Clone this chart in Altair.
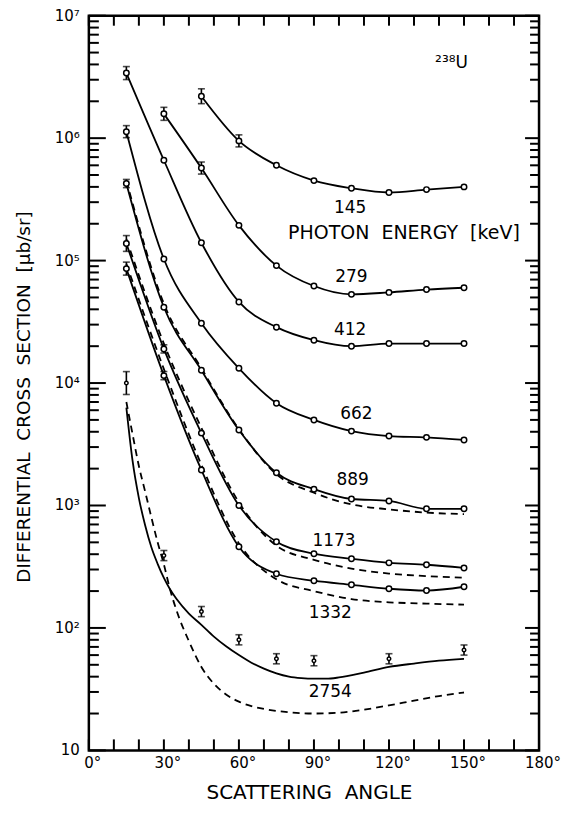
import altair as alt
import pandas as pd

# ---------------- data ----------------
ANG_FULL = [15, 30, 45, 60, 75, 90, 105, 120, 135, 150]

ANG_145 = [45, 60, 75, 90, 105, 120, 135, 150]
VAL_145 = [2.2e6, 9.5e5, 6.0e5, 4.5e5, 3.9e5, 3.6e5, 3.8e5, 4.0e5]

ANG_279 = [30, 45, 60, 75, 90, 105, 120, 135, 150]
VAL_279 = [1.58e6, 5.7e5, 1.94e5, 9.1e4, 6.2e4, 5.3e4, 5.5e4, 5.8e4, 6.0e4]

VAL_412 = [3.4e6, 6.6e5, 1.4e5, 4.6e4, 2.86e4, 2.24e4, 2.0e4, 2.1e4, 2.1e4, 2.1e4]
VAL_662 = [1.13e6, 1.03e5, 3.08e4, 1.32e4, 6.85e3, 5.0e3, 4.05e3, 3.69e3, 3.6e3, 3.43e3]
VAL_889 = [4.26e5, 4.16e4, 1.27e4, 4.13e3, 1.85e3, 1.36e3, 1.13e3, 1.09e3, 9.4e2, 9.4e2]
VAL_1173 = [1.38e5, 1.9e4, 3.9e3, 1.0e3, 505, 404, 367, 340, 328, 309]
VAL_1332 = [8.6e4, 1.15e4, 1.95e3, 460, 277, 243, 225, 209, 202, 217]

DASH_889 = [4.5e5, 4.45e4, 1.32e4, 4.2e3, 1.8e3, 1.27e3, 1.02e3, 930, 875, 850]
DASH_1173 = [1.5e5, 2.1e4, 4.3e3, 1.06e3, 470, 360, 305, 278, 265, 257]
DASH_1332 = [9.4e4, 1.3e4, 2.15e3, 490, 250, 200, 172, 162, 158, 155]

ANG_2754 = [15, 30, 45, 60, 75, 90, 120, 150]
VAL_2754 = [1.0e4, 390, 136, 80, 56, 54, 56, 66]

CURVE_ANG_2754 = [15, 17.5, 20, 22.5, 25, 27.5, 30, 32.5, 35, 40, 45, 50, 55, 60,
                  65, 70, 75, 80, 85, 90, 95, 100, 110, 120, 130, 140, 150]
SOLID_2754 = [6300, 2300, 1150, 690, 456, 334, 256, 206, 173, 131, 106, 85, 70.5, 60,
              52, 46.5, 42.5, 40, 38.9, 38.5, 38.5, 39.4, 43.2, 48, 51.2, 54.1, 56]
DASH_ANG_2754 = [15, 17.5, 20, 22.5, 25, 27.5, 30, 32.5, 35, 40, 45, 50, 55, 60,
                 65, 70, 80, 90, 100, 110, 120, 130, 140, 150]
DASH_2754 = [7000, 3800, 2100, 1300, 800, 500, 330, 205, 140, 78, 48, 35, 28.5, 25,
             23, 21.8, 20.5, 20, 20.3, 21.5, 23.3, 25.5, 27.8, 29.7]

EB_ANG = [45, 60, 30, 45, 15, 15, 15, 15, 15, 30, 30,
          15, 30, 45, 60, 75, 90, 120, 150]
EB_VAL = [2.2e6, 9.5e5, 1.58e6, 5.7e5, 3.4e6, 1.13e6, 4.26e5, 1.38e5, 8.6e4, 1.9e4, 1.15e4,
          1.0e4, 390, 136, 80, 56, 54, 56, 66]
EB_REL = [0.15, 0.12, 0.13, 0.12, 0.13, 0.12, 0.08, 0.16, 0.13, 0.08, 0.08,
          0.24, 0.10, 0.10, 0.10, 0.10, 0.10, 0.10, 0.10]

NB = "\u00a0"
LBL_TEXT = ["145", "PHOTON" + NB + NB + "ENERGY" + NB + NB + "[keV]", "279", "412", "662",
            "889", "1173", "1332", "2754", "²³⁸U"]
LBL_ANG = [104.5, 126, 105, 104.5, 107, 105.5, 98, 96.5, 96.5, 145]
LBL_VAL = [2.7e5, 1.67e5, 7.4e4, 2.7e4, 5.6e3, 1.6e3, 515, 133, 29.7, 4.1e6]
LBL_SIZE = [17, 19, 17, 17, 17, 17, 17, 17, 17, 17]

DECADES = [10, 100, 1e3, 1e4, 1e5, 1e6, 1e7]
Y_TICK_LABELS = ["10", "10²", "10³", "10⁴", "10⁵", "10⁶", "10⁷"]
MINOR = [k * 10 ** d for d in range(1, 7) for k in range(2, 10)]
XTICKS = list(range(0, 181, 10))
X_LABEL_ANGLES = [0, 30, 60, 90, 120, 150, 180]
X_TICK_LABELS = ["0°", "30°", "60°", "90°", "120°", "150°", "180°"]
X_TITLE = "SCATTERING" + NB + NB + "ANGLE"
Y_TITLE = "DIFFERENTIAL" + NB + NB + "CROSS" + NB + NB + "SECTION" + NB + NB + "[µb/sr]"

# ---------------- tables ----------------
rows = []
def add(name, angs, vals):
    for a, v in zip(angs, vals):
        rows.append({"series": name, "angle": a, "value": v})

add("145", ANG_145, VAL_145)
add("279", ANG_279, VAL_279)
add("412", ANG_FULL, VAL_412)
add("662", ANG_FULL, VAL_662)
add("889", ANG_FULL, VAL_889)
add("1173", ANG_FULL, VAL_1173)
add("1332", ANG_FULL, VAL_1332)
pts = pd.DataFrame(rows)
pts["sz"] = 30
pts2754 = pd.DataFrame({"series": "2754", "angle": ANG_2754, "value": VAL_2754, "sz": 12})
points = pd.concat([pts, pts2754], ignore_index=True)

solid_rows = list(rows)
for a, v in zip(CURVE_ANG_2754, SOLID_2754):
    solid_rows.append({"series": "2754", "angle": a, "value": v})
solid = pd.DataFrame(solid_rows)

dash_rows = []
for name, vals in (("889", DASH_889), ("1173", DASH_1173), ("1332", DASH_1332)):
    for a, v in zip(ANG_FULL, vals):
        dash_rows.append({"series": name, "angle": a, "value": v})
for a, v in zip(DASH_ANG_2754, DASH_2754):
    dash_rows.append({"series": "2754", "angle": a, "value": v})
dashed = pd.DataFrame(dash_rows)

eb = pd.DataFrame({"angle": EB_ANG, "value": EB_VAL, "rel": EB_REL})
eb["lo"] = eb["value"] / (1 + eb["rel"])
eb["hi"] = eb["value"] * (1 + eb["rel"])

labels = pd.DataFrame({"text": LBL_TEXT, "angle": LBL_ANG, "value": LBL_VAL, "fs": LBL_SIZE})

# ---------------- scales ----------------
FONT = "DejaVu Sans"
W, H = 451, 736
XS = alt.Scale(domain=[0, 180], nice=False, zero=False)
YS = alt.Scale(type="log", domain=[10, 1e7], nice=False)
DEG_PER_PX = 180.0 / W
DEC_PER_PX = 6.0 / H

def X(field):
    return alt.X(field, scale=XS, axis=None)

def Y(field):
    return alt.Y(field, scale=YS, axis=None)

# ---------------- data layers ----------------
solid_layer = alt.Chart(solid).mark_line(color="black", strokeWidth=1.8, interpolate="monotone").encode(
    x=X("angle:Q"), y=Y("value:Q"), detail="series:N")

dashed_layer = alt.Chart(dashed).mark_line(color="black", strokeWidth=1.8, strokeDash=[7, 5],
                                           interpolate="monotone").encode(
    x=X("angle:Q"), y=Y("value:Q"), detail="series:N")

rule_layer = alt.Chart(eb).mark_rule(color="black", strokeWidth=1.6).encode(
    x=X("angle:Q"), y=Y("lo:Q"), y2="hi:Q")

cap_lo = alt.Chart(eb).mark_tick(color="black", orient="horizontal", size=7, thickness=1.6).encode(
    x=X("angle:Q"), y=Y("lo:Q"))
cap_hi = alt.Chart(eb).mark_tick(color="black", orient="horizontal", size=7, thickness=1.6).encode(
    x=X("angle:Q"), y=Y("hi:Q"))

point_layer = alt.Chart(points).mark_point(shape="circle", filled=False, fill="white",
                                           fillOpacity=1, stroke="black", strokeWidth=1.5).encode(
    x=X("angle:Q"), y=Y("value:Q"), size=alt.Size("sz:Q", scale=None, legend=None))

text_layer = alt.Chart(labels).mark_text(font=FONT, color="black", align="center",
                                         baseline="middle").encode(
    x=X("angle:Q"), y=Y("value:Q"), text="text:N",
    size=alt.Size("fs:Q", scale=None, legend=None))

# ---------------- frame ticks (inward), placed through the scales ----------------
def yticks(vals, from_right, length_px):
    span = length_px * DEG_PER_PX
    a0, a1 = (180 - span, 180) if from_right else (0, span)
    return pd.DataFrame({"t": vals, "a0": a0, "a1": a1})

def xticks(vals, from_top, length_px):
    f = 10 ** (length_px * DEC_PER_PX)
    v0, v1 = (1e7 / f, 1e7) if from_top else (10, 10 * f)
    return pd.DataFrame({"t": vals, "v0": v0, "v1": v1})

ytick_df = pd.concat([yticks(DECADES, False, 17), yticks(MINOR, False, 10),
                      yticks(DECADES, True, 14), yticks(MINOR, True, 9)], ignore_index=True)
xtick_df = pd.concat([xticks(XTICKS, True, 10), xticks(XTICKS, False, 11)], ignore_index=True)

ytick_layer = alt.Chart(ytick_df).mark_rule(color="black", strokeWidth=2).encode(
    y=Y("t:Q"), x=X("a0:Q"), x2="a1:Q")
xtick_layer = alt.Chart(xtick_df).mark_rule(color="black", strokeWidth=2).encode(
    x=X("t:Q"), y=Y("v0:Q"), y2="v1:Q")

# ---------------- tick labels and axis titles as text ----------------
ylab = pd.DataFrame({"text": Y_TICK_LABELS, "value": DECADES, "angle": -9 * DEG_PER_PX})
xlab = pd.DataFrame({"text": X_TICK_LABELS,
                     "angle": [a + 4 * DEG_PER_PX for a in X_LABEL_ANGLES],
                     "value": 10 ** (1 - 6 * DEC_PER_PX)})
ytitle = pd.DataFrame({"text": [Y_TITLE], "angle": [-65 * DEG_PER_PX],
                       "value": [10 ** (7 - 382 * DEC_PER_PX)]})
xtitle = pd.DataFrame({"text": [X_TITLE], "angle": [221 * DEG_PER_PX],
                       "value": [10 ** (1 - 49 * DEC_PER_PX)]})

ylab_layer = alt.Chart(ylab).mark_text(font=FONT, fontSize=15, color="black", align="right",
                                       baseline="middle").encode(
    x=X("angle:Q"), y=Y("value:Q"), text="text:N")
xlab_layer = alt.Chart(xlab).mark_text(font=FONT, fontSize=15, color="black", align="center",
                                       baseline="top").encode(
    x=X("angle:Q"), y=Y("value:Q"), text="text:N")
ytitle_layer = alt.Chart(ytitle).mark_text(font=FONT, fontSize=18.5, color="black", align="center",
                                           baseline="middle", angle=270).encode(
    x=X("angle:Q"), y=Y("value:Q"), text="text:N")
xtitle_layer = alt.Chart(xtitle).mark_text(font=FONT, fontSize=20, color="black", align="center",
                                           baseline="alphabetic").encode(
    x=X("angle:Q"), y=Y("value:Q"), text="text:N")

chart = alt.layer(
    solid_layer, dashed_layer, rule_layer, cap_lo, cap_hi, point_layer, text_layer,
    ytick_layer, xtick_layer, ylab_layer, xlab_layer, ytitle_layer, xtitle_layer
).properties(
    width=W, height=H,
    padding={"left": 81, "top": 7, "right": 22, "bottom": 58},
    autosize=alt.AutoSizeParams(type="none"),
    background="white",
).configure_view(stroke="black", strokeWidth=2.5)

chart.save("out.html", embed_options={"renderer": "svg", "actions": False})
